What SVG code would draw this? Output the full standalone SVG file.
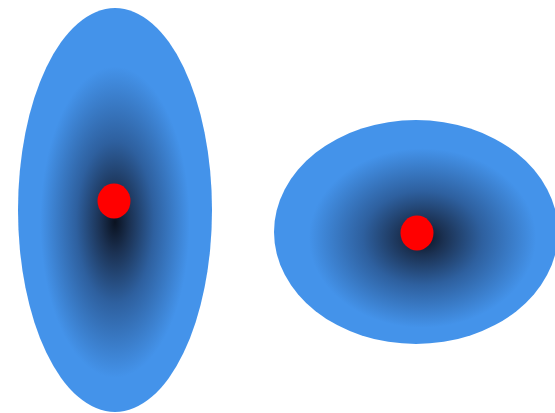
<svg xmlns="http://www.w3.org/2000/svg" width="555" height="413" viewBox="0 0 555 413">
<defs>
<radialGradient id="g1" cx="0.5" cy="0.53" r="0.5">
<stop offset="0" stop-color="#0a1220"/>
<stop offset="0.15" stop-color="#1b3152"/>
<stop offset="0.4" stop-color="#2e609f"/>
<stop offset="0.77" stop-color="#4493ea"/>
<stop offset="1" stop-color="#4493ea"/>
</radialGradient>
<radialGradient id="g2" cx="0.523" cy="0.527" r="0.5">
<stop offset="0" stop-color="#0a1220"/>
<stop offset="0.15" stop-color="#1b3152"/>
<stop offset="0.42" stop-color="#2e609f"/>
<stop offset="0.8" stop-color="#4493ea"/>
<stop offset="1" stop-color="#4493ea"/>
</radialGradient>
<style>.dot{fill:#ff0000}</style>
</defs>
<g id="left">
<ellipse cx="115" cy="210" rx="97" ry="202" fill="url(#g1)"/>
<ellipse class="dot" cx="114" cy="201" rx="16.5" ry="17.5"/>
</g>
<g id="right">
<ellipse cx="416" cy="232" rx="142" ry="112" fill="url(#g2)"/>
<ellipse class="dot" cx="417" cy="233" rx="16.5" ry="17.5"/>
</g>
</svg>
